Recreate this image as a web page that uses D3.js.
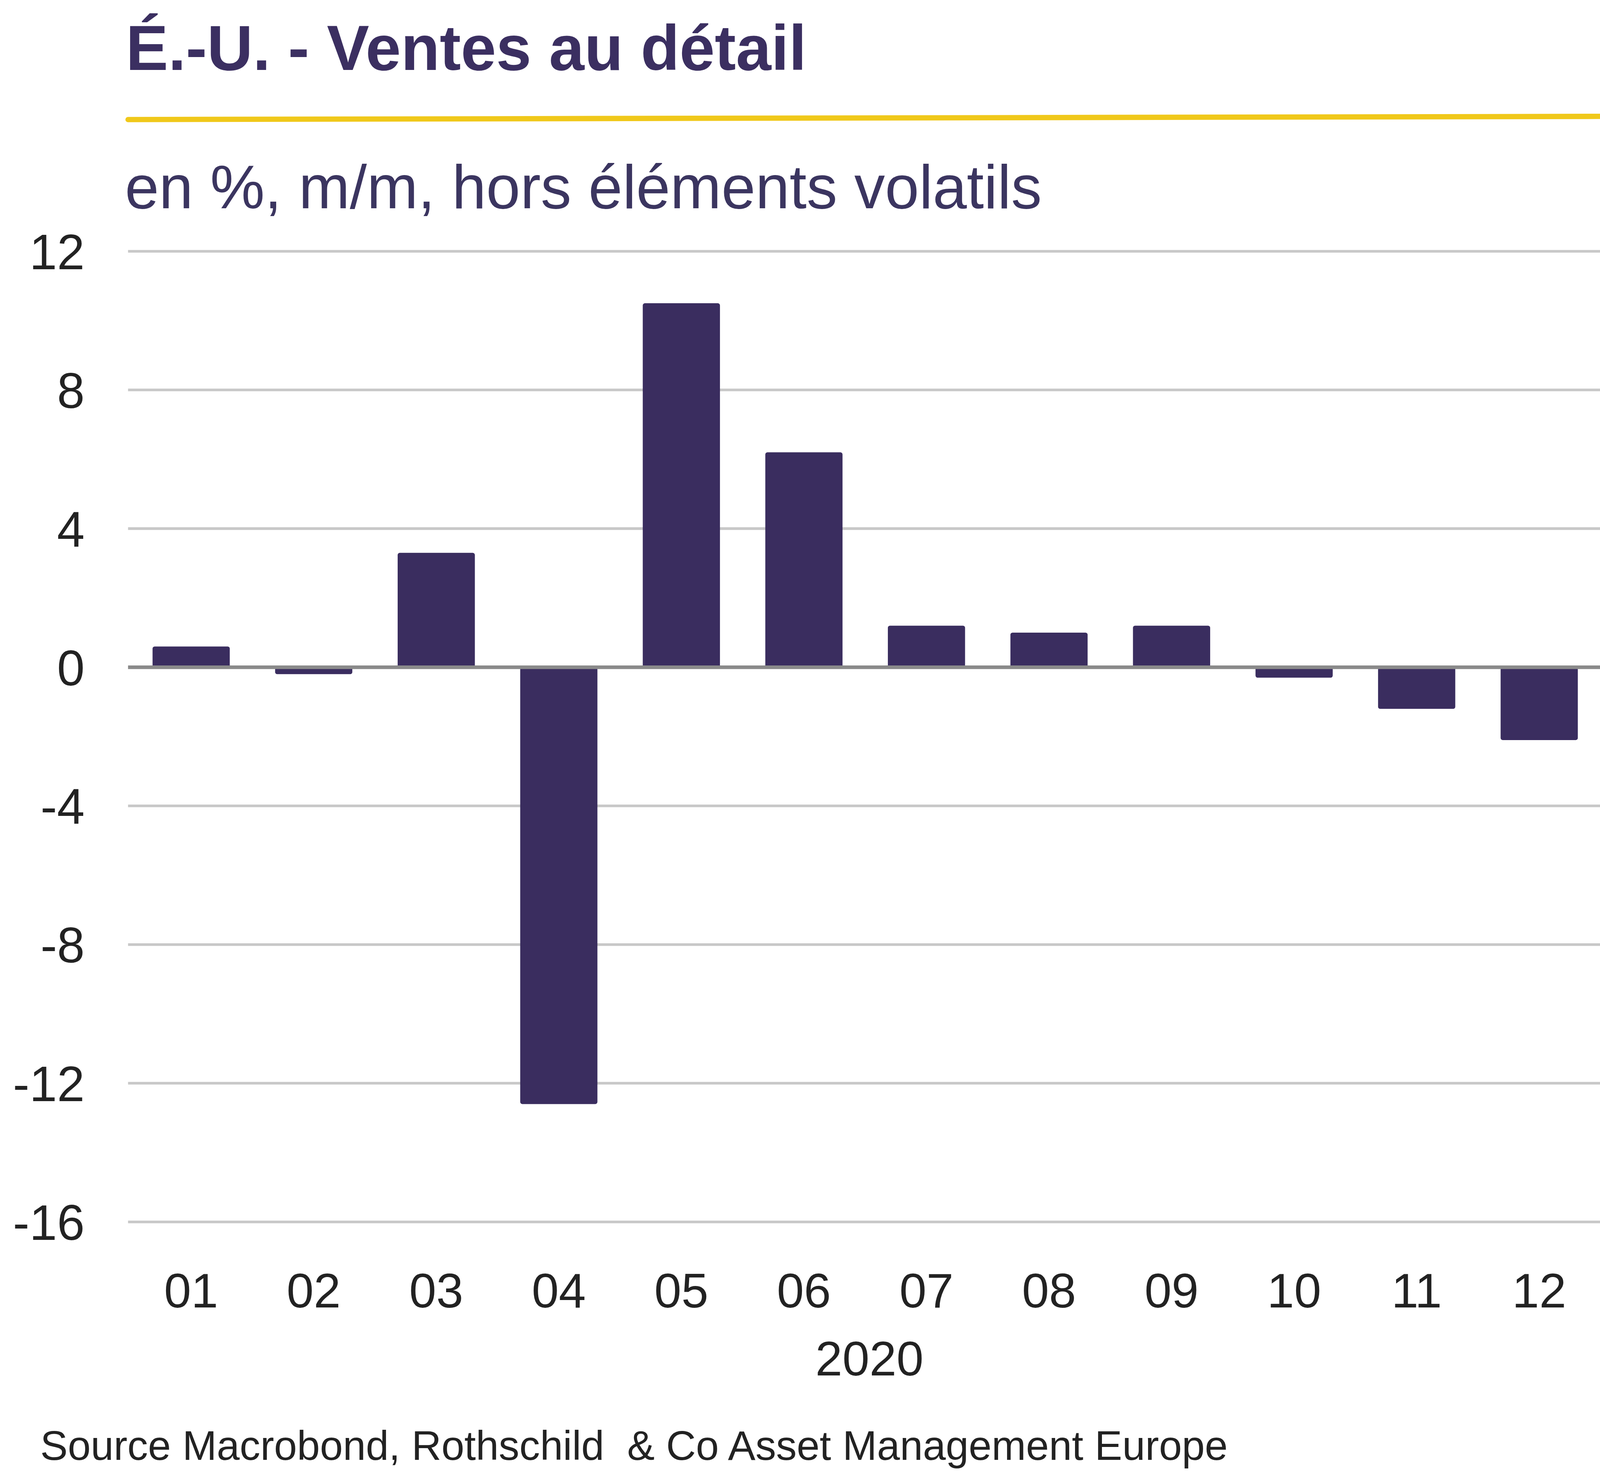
<!DOCTYPE html>
<html><head><meta charset="utf-8">
<script src="https://cdn.jsdelivr.net/npm/d3@7"></script>
<style>body{margin:0;background:#fff}svg{display:block}</style>
</head><body>
<script>
const categories = ["01","02","03","04","05","06","07","08","09","10","11","12"];
const values = [0.6,-0.2,3.3,-12.6,10.5,6.2,1.2,1.0,1.2,-0.3,-1.2,-2.1];
const yTicks = [12,8,4,0,-4,-8,-12,-16];
const title = "É.-U. - Ventes au détail";
const subtitle = "en %, m/m, hors éléments volatils";
const yearLabel = "2020";
const source = "Source Macrobond, Rothschild  & Co Asset Management Europe";

const svg = d3.select("body").append("svg")
  .attr("width",4224).attr("height",3785).attr("viewBox","0 0 1560 1398");
const font = "Arial, 'Liberation Sans', sans-serif";
const x = d3.scaleBand().domain(categories).range([121,1515]).paddingInner(0.37).paddingOuter(0.2);
const y = d3.scaleLinear().domain([-16,12]).range([1155,237.5]);

svg.append("text").attr("x",119).attr("y",66).text(title)
  .attr("font-family",font).attr("font-weight","bold").attr("font-size",60).attr("fill","#3b2f61");
svg.append("line").attr("x1",121).attr("x2",1513).attr("y1",113).attr("y2",110)
  .attr("stroke","#f0c81a").attr("stroke-width",5).attr("stroke-linecap","round");
svg.append("text").attr("x",118).attr("y",197).text(subtitle)
  .attr("font-family",font).attr("font-size",58).attr("fill","#3b3560");

svg.append("g").selectAll("line").data(yTicks.filter(d=>d!==0)).join("line")
  .attr("x1",121).attr("x2",1515).attr("y1",d=>y(d)).attr("y2",d=>y(d))
  .attr("stroke","#c8c8c8").attr("stroke-width",2.5);
svg.append("g").selectAll("text").data(yTicks).join("text")
  .attr("x",80).attr("y",d=>y(d)+17).attr("text-anchor","end").text(d=>d)
  .attr("font-family",font).attr("font-size",47).attr("fill","#222");

svg.append("g").selectAll("rect").data(values).join("rect")
  .attr("x",(d,i)=>x(categories[i])).attr("width",x.bandwidth())
  .attr("y",d=>y(Math.max(0,d))).attr("height",d=>Math.abs(y(d)-y(0)))
  .attr("rx",2).attr("fill","#3a2d5f");
svg.append("line").attr("x1",121).attr("x2",1520).attr("y1",y(0)).attr("y2",y(0))
  .attr("stroke","#8a8a8a").attr("stroke-width",3.5);

svg.append("g").selectAll("text").data(categories).join("text")
  .attr("x",d=>x(d)+x.bandwidth()/2).attr("y",1236).attr("text-anchor","middle").text(d=>d)
  .attr("font-family",font).attr("font-size",46).attr("fill","#222");
svg.append("text").attr("x",822).attr("y",1300).attr("text-anchor","middle").text(yearLabel)
  .attr("font-family",font).attr("font-size",46).attr("fill","#222");
svg.append("text").attr("x",38).attr("y",1380).text(source).attr("xml:space","preserve")
  .attr("font-family",font).attr("font-size",39).attr("fill","#222");
</script>
</body></html>
